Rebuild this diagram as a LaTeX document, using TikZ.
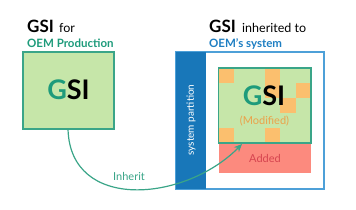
\documentclass[tikz,border=0pt]{standalone}
\usepackage{fontspec}
\setmainfont{Lato}
\usetikzlibrary{arrows.meta}
\definecolor{gfill}{HTML}{C6E6A9}
\definecolor{gline}{HTML}{3AA588}
\definecolor{gletter}{HTML}{1E9B7B}
\definecolor{orng}{HTML}{FBBF6E}
\definecolor{orngtxt}{HTML}{EBA24A}
\definecolor{redbox}{HTML}{FC8A7E}
\definecolor{redtxt}{HTML}{D64550}
\definecolor{band}{HTML}{1877B9}
\definecolor{outer}{HTML}{4DA0D8}
\definecolor{bluetxt}{HTML}{1E7EC2}
\tikzset{
  bigtitle/.style={anchor=base west, inner sep=0pt, font=\fontsize{17}{20}\selectfont\bfseries},
  smalltitle/.style={anchor=base west, inner sep=0pt, font=\fontsize{12.5}{14}\selectfont},
  subtitle/.style={anchor=base west, inner sep=0pt, font=\fontsize{11.5}{14}\selectfont\bfseries},
  gsilogo/.style={inner sep=0pt, font=\fontsize{27}{30}\selectfont\bfseries},
  smalltxt/.style={inner sep=0pt, font=\fontsize{11}{13}\selectfont},
}
\begin{document}
\begin{tikzpicture}[x=1pt,y=-1pt]
\useasboundingbox (0,0) rectangle (356,209);
% titles
\node[bigtitle] (t1) at (27,32) {GSI};
\node[smalltitle] (t1b) at (59,32) {for};
\node[subtitle, text=gletter] (t1c) at (27,47) {OEM Production};
\node[bigtitle] (t2) at (209,32) {GSI};
\node[smalltitle] (t2b) at (242,32) {inherited to};
\node[subtitle, text=bluetxt] (t2c) at (209,47) {OEM's system};
% left box
\draw[fill=gfill, draw=gline, line width=1.2pt] (23,52) rectangle (114,129);
\coordinate (lb) at (68,129);
\node[gsilogo] (g1) at (68.5,90) {\textcolor{gletter}{G}SI};
% right outer box
\draw[draw=outer, line width=1.2pt] (176,52) rectangle (324,189);
\fill[band] (176,52) rectangle (205.5,189);
\node[rotate=90, text=white, inner sep=0pt, font=\fontsize{10}{12}\selectfont] (sp) at (191,120) {system partition};
% red added box
\fill[redbox] (218.5,143) rectangle (311,173);
\node[smalltxt, text=redtxt] (add) at (265,158) {Added};
% green modified box
\fill[gfill] (218.5,68) rectangle (311,143);
\foreach \c/\r in {0/0,3/0,3/1,5/1,4/2,0/4,3/4}{
  \fill[orng] ({218.5+\c*15.42},{68+\r*15}) rectangle ++(15.42,15);
}
\draw[draw=gline, line width=1.2pt] (218.5,68) rectangle (311,143);
\node[gsilogo] (g2) at (264,96) {\textcolor{gletter}{G}SI};
\node[smalltxt, text=orngtxt] (mod) at (264.5,121) {(Modified)};
\coordinate (gb) at (242,144);
% arrow
\draw[gline, line width=1.2pt, -{Stealth[length=8pt,width=7pt]}] (lb) .. controls (70,212) and (185,202) .. (gb);
\node[smalltxt, text=gline] (inh) at (129,176) {Inherit};
\end{tikzpicture}
\end{document}
